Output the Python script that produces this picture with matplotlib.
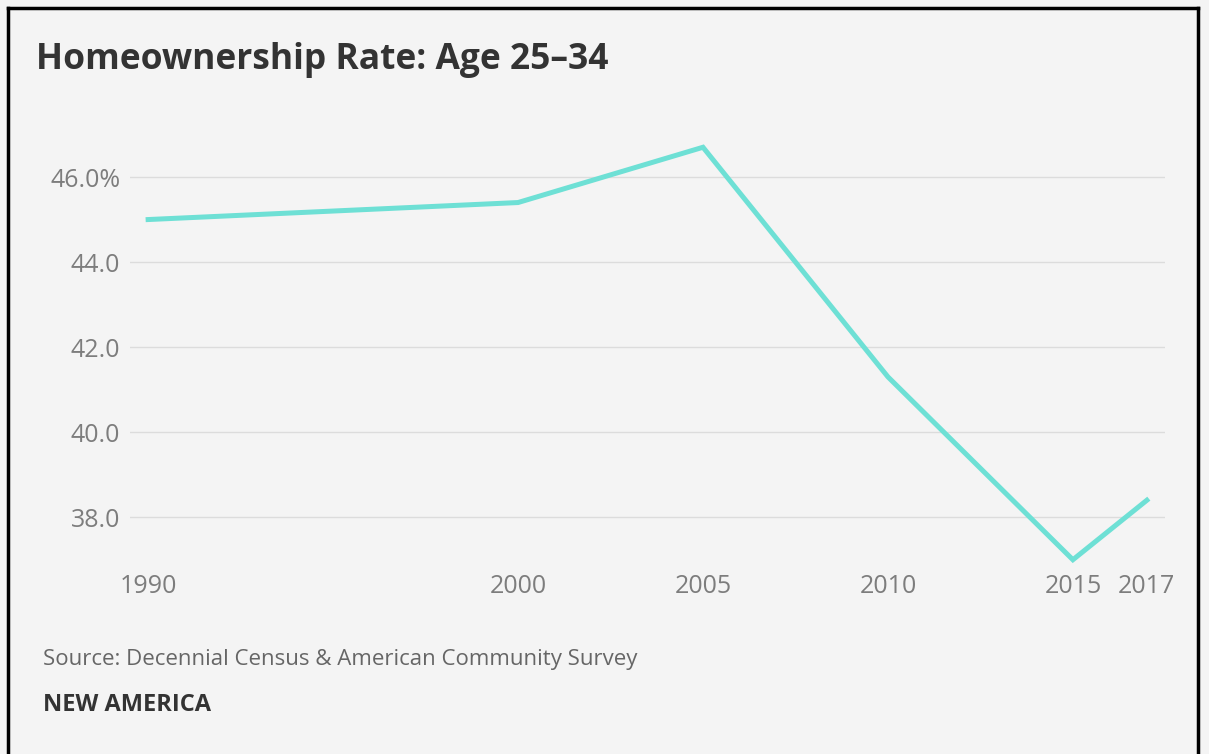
import matplotlib
matplotlib.use("Agg")
import matplotlib.pyplot as plt
from matplotlib.lines import Line2D

# data
years = [1990, 2000, 2005, 2010, 2015, 2017]
rate = [45.0, 45.4, 46.7, 41.3, 37.0, 38.4]
yticks = [38, 40, 42, 44, 46]
ytick_labels = ["38.0", "40.0", "42.0", "44.0", "46.0%"]

bg = "#f4f4f4"
fam = "Open Sans"
W, H = 1209, 754
fig = plt.figure(figsize=(W / 100, H / 100), dpi=100, facecolor=bg)

# y=46 at 177px, y=38 at 517px
ax = fig.add_axes([130 / W, 1 - 564 / H, (1165 - 130) / W, (564 - 134.5) / H])
ax.set_facecolor(bg)
ax.plot(years, rate, color="#6ee0d5", lw=3.6, solid_joinstyle="miter", zorder=3, clip_on=False)

ax.set_xlim(1989.51, 2017.49)
ax.set_ylim(36.9, 47)
ax.set_yticks(yticks)
ax.set_yticklabels(ytick_labels)
ax.set_xticks(years)
ax.set_xticklabels([str(y) for y in years])
ax.grid(axis="y", color="#dcdcdc", lw=1)
ax.tick_params(length=0, labelsize=18, labelcolor="#7d7d7d")
ax.tick_params(axis="y", pad=7)
ax.tick_params(axis="x", pad=7)
for lab in ax.get_xticklabels() + ax.get_yticklabels():
    lab.set_family(fam)
for s in ax.spines.values():
    s.set_visible(False)

fig.text(36 / W, 1 - 60 / H, "Homeownership Rate: Age 25\u201334", fontsize=25.5,
         fontweight="bold", color="#333333", family=fam, va="center")
fig.text(43 / W, 1 - 659 / H, "Source: Decennial Census & American Community Survey",
         fontsize=16, color="#666666", family=fam, va="center")
fig.text(43 / W, 1 - 705 / H, "NEW AMERICA", fontsize=17, fontweight="bold",
         color="#333333", family=fam, va="center")

# black frame (left, top, right)
fr = dict(color="black", lw=2.5, transform=fig.transFigure)
fig.add_artist(Line2D([8 / W, 8 / W], [0, 1 - 8 / H], **fr))
fig.add_artist(Line2D([8 / W, 1198 / W], [1 - 8 / H, 1 - 8 / H], **fr))
fig.add_artist(Line2D([1198 / W, 1198 / W], [0, 1 - 8 / H], **fr))

fig.savefig("out.png", dpi=100, facecolor=bg)
